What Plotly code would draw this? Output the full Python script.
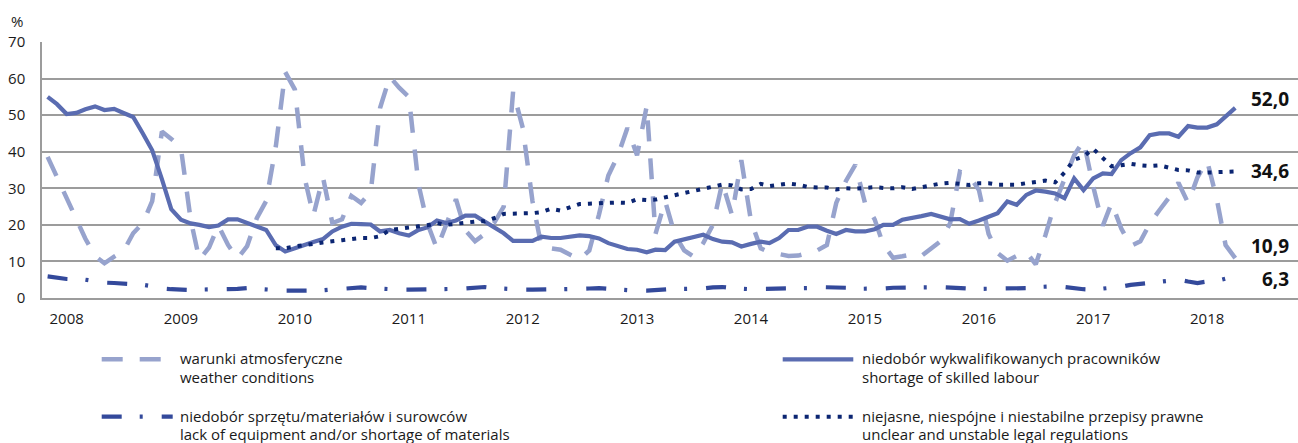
import pandas as pd
import plotly.graph_objects as go

# Monthly survey results, Nov 2007 - Apr 2018 (% of enterprises)
months = pd.date_range("2007-11-01", periods=126, freq="MS")
years = list(range(2008, 2019))

weather = [
    38.6, 33.0, 27.3, 22.0, 16.2, 11.5, 9.5, 11.3, 12.8, 17.7, 20.5, 26.5,
    45.5, 43.5, 41.0, 21.5, 10.5, 13.8, 19.8, 14.5, 10.8, 14.2, 21.8, 26.5,
    41.5, 61.8, 57.0, 33.0, 22.5, 33.0, 20.5, 21.5, 27.9, 26.0, 29.0, 52.0,
    60.5, 57.5, 55.0, 31.0, 20.5, 13.5, 20.5, 27.0, 18.5, 15.5, 17.5, 20.5,
    25.0, 56.5, 46.5, 26.5, 14.0, 13.5, 13.2, 11.8, 10.5, 13.0, 22.8, 33.5,
    39.0, 46.5, 39.0, 52.5, 17.5, 26.5, 17.5, 13.0, 11.3, 15.0, 20.0, 31.5,
    22.7, 37.7, 21.0, 13.6, 12.5, 12.0, 11.5, 11.6, 12.4, 13.0, 14.5, 26.0,
    32.0, 36.4, 26.0, 21.5, 14.5, 11.0, 11.4, 12.0, 11.5, 13.5, 15.6, 20.5,
    34.5, 33.5, 29.5, 17.5, 12.3, 10.2, 11.5, 12.5, 9.2, 17.2, 26.0, 32.5,
    39.0, 43.0, 30.5, 19.8, 26.0, 19.0, 14.2, 15.5, 20.3, 24.0, 27.5, 31.5,
    26.0, 33.0, 37.5, 27.0, 14.5, 10.9,
]

skilled_labour = [
    55.0, 53.0, 50.3, 50.6, 51.6, 52.4, 51.4, 51.7, 50.6, 49.5, 45.0, 40.4,
    32.5, 24.3, 21.4, 20.4, 20.0, 19.4, 19.8, 21.5, 21.5, 20.6, 19.5, 18.6,
    14.4, 12.7, 13.6, 14.6, 15.3, 16.1, 18.2, 19.5, 20.3, 20.2, 20.1, 18.2,
    18.6, 17.7, 17.1, 18.6, 19.3, 21.2, 20.5, 21.2, 22.5, 22.5, 20.9, 19.5,
    17.7, 15.6, 15.6, 15.6, 16.8, 16.4, 16.4, 16.8, 17.1, 16.9, 16.3, 15.0,
    14.1, 13.4, 13.2, 12.5, 13.2, 13.1, 15.4, 16.0, 16.6, 17.3, 16.1, 15.4,
    15.2, 14.1, 14.8, 15.4, 15.0, 16.4, 18.6, 18.6, 19.5, 19.5, 18.4, 17.5,
    18.6, 18.2, 18.2, 18.8, 20.0, 20.0, 21.4, 21.8, 22.4, 23.0, 22.3, 21.5,
    21.6, 20.3, 21.2, 22.3, 23.2, 26.4, 25.5, 28.2, 29.4, 29.1, 28.6, 27.3,
    32.7, 29.5, 32.7, 34.1, 33.9, 37.7, 39.6, 41.2, 44.5, 45.0, 45.0, 44.1,
    47.0, 46.6, 46.6, 47.5, 49.5, 52.0,
]

equipment = [
    5.9, 5.5, 5.2, 5.1, 5.0, 4.6, 4.2, 4.1, 4.0, 3.8, 3.6, 3.2,
    2.6, 2.4, 2.2, 2.2, 2.3, 2.3, 2.3, 2.3, 2.5, 2.7, 2.5, 2.3,
    2.1, 2.0, 2.0, 2.0, 2.1, 2.1, 2.3, 2.5, 2.7, 2.9, 2.7, 2.5,
    2.4, 2.3, 2.3, 2.3, 2.3, 2.3, 2.4, 2.5, 2.6, 2.9, 3.0, 2.7,
    2.5, 2.4, 2.3, 2.3, 2.3, 2.3, 2.3, 2.4, 2.5, 2.6, 2.7, 2.5,
    2.3, 2.2, 2.0, 2.0, 2.2, 2.4, 2.5, 2.5, 2.5, 2.6, 2.9, 3.0,
    2.7, 2.5, 2.4, 2.5, 2.5, 2.5, 2.5, 2.5, 2.7, 3.0, 3.0, 3.0,
    2.8, 2.5, 2.5, 2.5, 2.6, 2.8, 2.8, 2.7, 2.7, 2.9, 3.0, 2.8,
    2.7, 2.6, 2.5, 2.5, 2.5, 2.5, 2.5, 2.7, 3.0, 3.1, 3.2, 3.0,
    2.6, 2.4, 2.3, 2.5, 2.8, 3.1, 3.6, 3.9, 4.3, 4.6, 4.8, 5.0,
    4.5, 4.1, 4.5, 4.7, 5.3, 6.3,
]

# legal regulations series is available from Nov 2009
legal_start = 24
legal = [
    13.6, 13.6, 14.1, 14.6, 14.8, 15.2, 15.6, 15.8, 16.1, 16.4, 16.4, 16.9,
    18.6, 19.0, 19.3, 19.6, 19.9, 20.5, 20.0, 20.3, 20.8, 20.9, 21.0, 21.8,
    23.0, 23.0, 23.0, 23.2, 23.5, 24.4, 23.9, 24.8, 25.7, 25.8, 25.8, 26.0,
    26.1, 26.0, 27.0, 26.8, 26.9, 27.4, 28.1, 28.7, 29.3, 29.9, 30.3, 31.0,
    30.8, 29.7, 29.8, 31.2, 30.6, 30.9, 31.3, 31.0, 30.4, 30.2, 30.2, 29.7,
    30.0, 29.9, 30.2, 30.3, 30.1, 30.0, 30.3, 29.8, 30.3, 30.8, 31.3, 31.5,
    31.3, 30.9, 31.4, 31.4, 31.0, 30.9, 31.0, 31.4, 31.8, 32.1, 31.6, 34.3,
    37.8, 38.7, 40.8, 38.3, 36.0, 36.3, 36.7, 36.3, 36.1, 36.3, 35.6, 35.0,
    34.9, 34.3, 34.3, 34.4, 34.3, 34.6,
]

names_pl = [
    "warunki atmosferyczne",
    "niedobór wykwalifikowanych pracowników",
    "niedobór sprzętu/materiałów i surowców",
    "niejasne, niespójne i niestabilne przepisy prawne",
]
names_en = [
    "weather conditions",
    "shortage of skilled labour",
    "lack of equipment and/or shortage of materials",
    "unclear and unstable legal regulations",
]

C_WEATHER = "#97A3CD"
C_SKILLED = "#5A6CB1"
C_EQUIP = "#33499B"
C_LEGAL = "#0B2572"
GRID = "#9C9C9C"
TXT = "#1a1a1a"
FONT = "Open Sans"

DASH_WEATHER = "21px,17px"
DASH_EQUIP = "20px,18px,3px,19px"
DASH_LEGAL = "4px,7px"

W, H = 1298, 443
ML, MR, MT, MB = 42, 0, 42, 145
PW, PH = W - ML - MR, H - MT - MB


def px_x(px):
    return (px - ML) / PW


def px_y(py):
    return (H - MB - py) / PH


fig = go.Figure()
fig.add_trace(go.Scatter(x=months, y=weather, mode="lines", name=names_pl[0],
                         line=dict(color=C_WEATHER, width=4.5, dash=DASH_WEATHER)))
fig.add_trace(go.Scatter(x=months, y=skilled_labour, mode="lines", name=names_pl[1],
                         line=dict(color=C_SKILLED, width=4.2)))
fig.add_trace(go.Scatter(x=months, y=equipment, mode="lines", name=names_pl[2],
                         line=dict(color=C_EQUIP, width=4.2, dash=DASH_EQUIP)))
fig.add_trace(go.Scatter(x=months[legal_start:], y=legal, mode="lines", name=names_pl[3],
                         line=dict(color=C_LEGAL, width=4, dash=DASH_LEGAL)))

# end-of-series value labels
end_labels = [(skilled_labour[-1], 9), (legal[-1], 0), (weather[-1], 12), (equipment[-1], -4)]
for val, shift in end_labels:
    fig.add_annotation(x=px_x(1291), xref="paper", xanchor="right", y=val, yref="y",
                       yshift=shift, yanchor="middle", showarrow=False,
                       text="<b>" + f"{val:.1f}".replace(".", ",") + "</b>",
                       font=dict(family=FONT, size=19, color="#111111"))

fig.add_annotation(x=px_x(17), y=px_y(21), xref="paper", yref="paper", text="%",
                   showarrow=False, xanchor="center", yanchor="middle",
                   font=dict(family=FONT, size=15, color=TXT))

# legend drawn as shapes and text, two columns
legend_items = [
    (101.7, 160.7, 359.3, C_WEATHER, 4.5, DASH_WEATHER, 178.3, 0),
    (782.7, 853.3, 359.3, C_SKILLED, 4.2, "solid", 860, 1),
    (101.7, 172.7, 416.7, C_EQUIP, 4.2, DASH_EQUIP, 178.3, 2),
    (782.7, 856.0, 416.7, C_LEGAL, 4, DASH_LEGAL, 860, 3),
]
for x0, x1, yy, col, lw, dash, tx, k in legend_items:
    fig.add_shape(type="line", xref="paper", yref="paper",
                  x0=px_x(x0), x1=px_x(x1), y0=px_y(yy), y1=px_y(yy),
                  line=dict(color=col, width=lw, dash=dash))
    for j, line_text in enumerate((names_pl[k], names_en[k])):
        fig.add_annotation(x=px_x(tx), y=px_y(yy - 1 + 18.5 * j), xref="paper", yref="paper",
                           xanchor="left", yanchor="middle", align="left", showarrow=False,
                           text=line_text,
                           font=dict(family=FONT, size=15, color=TXT))

fig.update_layout(
    width=W, height=H,
    margin=dict(l=ML, r=MR, t=MT, b=MB),
    plot_bgcolor="white", paper_bgcolor="white",
    showlegend=False,
    font=dict(family=FONT, size=15, color=TXT),
    xaxis=dict(
        type="date",
        range=["2007-10-14", "2018-10-19"],
        tickvals=[pd.Timestamp(year=y, month=1, day=1) for y in years],
        ticktext=[str(y) for y in years],
        showgrid=False, showline=True, linecolor=GRID, linewidth=1.5,
        ticks="", ticklabelstandoff=6,
        tickfont=dict(family=FONT, size=15, color=TXT),
    ),
    yaxis=dict(
        range=[0, 70], dtick=10, tick0=0,
        showgrid=True, gridcolor=GRID, gridwidth=1.5,
        showline=True, linecolor=GRID, linewidth=1.5,
        zeroline=False, ticks="", ticklabelstandoff=12,
        tickfont=dict(family=FONT, size=15, color=TXT),
    ),
)

fig.write_html("out.html")
